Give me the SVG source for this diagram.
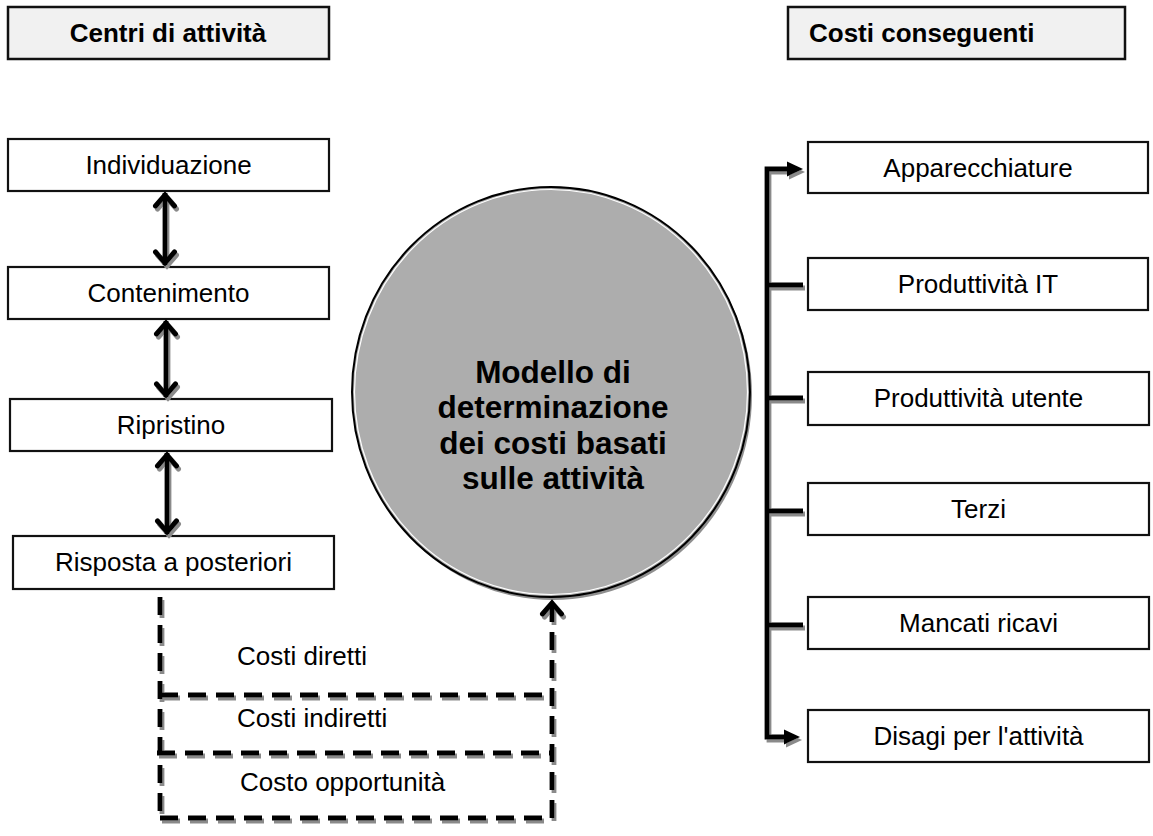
<svg xmlns="http://www.w3.org/2000/svg" width="1153" height="836" viewBox="0 0 1153 836">
<style>
  .box{fill:#fff;stroke:#111;stroke-width:2.2}
  .hdr{fill:#f1f1f1;stroke:#111;stroke-width:2.5}
  .t{font-family:"Liberation Sans",Arial,sans-serif;font-size:26px;fill:#000}
  .tb{font-family:"Liberation Sans",Arial,sans-serif;font-size:26px;font-weight:bold;fill:#000}
  .tc{font-family:"Liberation Sans",Arial,sans-serif;font-size:31.5px;font-weight:bold;fill:#000}
  .solid{fill:none;stroke:#000;stroke-width:4.8}
  .dash{fill:none;stroke:#000;stroke-width:4.8;stroke-dasharray:18 10}
</style>
<defs>
  <filter id="sh" x="-20%" y="-20%" width="140%" height="140%">
    <feDropShadow dx="2" dy="3" stdDeviation="0.6" flood-color="#8a8a8a" flood-opacity="1"/>
  </filter>
  <marker id="chev" viewBox="-16 -13 18 26" refX="0" refY="0" markerWidth="18" markerHeight="26" orient="auto-start-reverse" markerUnits="userSpaceOnUse">
    <path d="M-13,-9.5 L-2,0 L-13,9.5" fill="none" stroke="#000" stroke-width="5" stroke-linecap="round" stroke-linejoin="miter"/>
  </marker>
  <marker id="tri" viewBox="-17 -9 18 18" refX="0" refY="0" markerWidth="18" markerHeight="18" orient="auto" markerUnits="userSpaceOnUse">
    <path d="M-16,-7.5 L0,0 L-16,7.5 z" fill="#000"/>
  </marker>
</defs>

<g id="hdr-left">
  <rect class="hdr" x="8" y="7" width="321" height="52"/>
  <text class="tb" x="168" y="42" text-anchor="middle">Centri di attività</text>
</g>
<g id="hdr-right">
  <rect class="hdr" x="788" y="7" width="337" height="52"/>
  <text class="tb" x="809" y="42">Costi conseguenti</text>
</g>

<g id="model">
  <ellipse cx="553" cy="395" rx="199" ry="205" fill="#8f8f8f"/>
  <ellipse cx="551" cy="392" rx="199" ry="205" fill="#adadad" stroke="#000" stroke-width="2"/>
  <ellipse cx="551" cy="392" rx="196.5" ry="202.5" fill="none" stroke="#fff" stroke-width="1.2"/>
  <text class="tc" x="553" y="383" text-anchor="middle">Modello di</text>
  <text class="tc" x="553" y="418" text-anchor="middle">determinazione</text>
  <text class="tc" x="553" y="454" text-anchor="middle">dei costi basati</text>
  <text class="tc" x="553" y="489" text-anchor="middle">sulle attività</text>
</g>

<g id="n-individuazione">
  <rect class="box" x="8" y="139" width="321" height="52"/>
  <text class="t" x="168.5" y="174" text-anchor="middle">Individuazione</text>
</g>
<g id="n-contenimento">
  <rect class="box" x="8" y="267" width="321" height="52"/>
  <text class="t" x="168.5" y="302" text-anchor="middle">Contenimento</text>
</g>
<g id="n-ripristino">
  <rect class="box" x="10" y="399" width="322" height="52"/>
  <text class="t" x="171" y="434" text-anchor="middle">Ripristino</text>
</g>
<g id="n-risposta">
  <rect class="box" x="13" y="536" width="321" height="53"/>
  <text class="t" x="173.5" y="571" text-anchor="middle">Risposta a posteriori</text>
</g>

<g id="n-apparecchiature">
  <rect class="box" x="808" y="142" width="340" height="51"/>
  <text class="t" x="978" y="177" text-anchor="middle">Apparecchiature</text>
</g>
<g id="n-produttivita-it">
  <rect class="box" x="808" y="258" width="340" height="52"/>
  <text class="t" x="978" y="293" text-anchor="middle">Produttività IT</text>
</g>
<g id="n-produttivita-utente">
  <rect class="box" x="808" y="372" width="341" height="53"/>
  <text class="t" x="978.5" y="407" text-anchor="middle">Produttività utente</text>
</g>
<g id="n-terzi">
  <rect class="box" x="808" y="483" width="341" height="52"/>
  <text class="t" x="978.5" y="518" text-anchor="middle">Terzi</text>
</g>
<g id="n-mancati-ricavi">
  <rect class="box" x="808" y="597" width="341" height="52"/>
  <text class="t" x="978.5" y="632" text-anchor="middle">Mancati ricavi</text>
</g>
<g id="n-disagi">
  <rect class="box" x="808" y="710" width="341" height="52"/>
  <text class="t" x="978.5" y="745" text-anchor="middle">Disagi per l'attività</text>
</g>

<g id="labels">
  <text class="t" x="237" y="665">Costi diretti</text>
  <text class="t" x="237" y="727">Costi indiretti</text>
  <text class="t" x="240" y="791">Costo opportunità</text>
</g>

<g id="connectors" filter="url(#sh)">
  <line class="solid" x1="165" y1="193" x2="165" y2="265" marker-start="url(#chev)" marker-end="url(#chev)"/>
  <line class="solid" x1="166" y1="321" x2="166" y2="397" marker-start="url(#chev)" marker-end="url(#chev)"/>
  <line class="solid" x1="167" y1="453" x2="167" y2="534" marker-start="url(#chev)" marker-end="url(#chev)"/>

  <path class="solid" d="M790,169 H767 V737 H790"/>
  <path d="M787,169 H803" stroke="none" marker-end="url(#tri)"/>
  <path d="M784,737 H800" stroke="none" marker-end="url(#tri)"/>
  <line class="solid" x1="767" y1="285" x2="803" y2="285"/>
  <line class="solid" x1="767" y1="398" x2="803" y2="398"/>
  <line class="solid" x1="767" y1="511" x2="803" y2="511"/>
  <line class="solid" x1="767" y1="625" x2="803" y2="625"/>

  <path class="dash" d="M160,597 V820"/>
  <path class="dash" d="M160,695 H552"/>
  <path class="dash" d="M157,753 H552"/>
  <path class="dash" d="M160,818 H552"/>
  <path class="dash" d="M552,818 V601" marker-end="url(#chev)"/>
</g>
</svg>
